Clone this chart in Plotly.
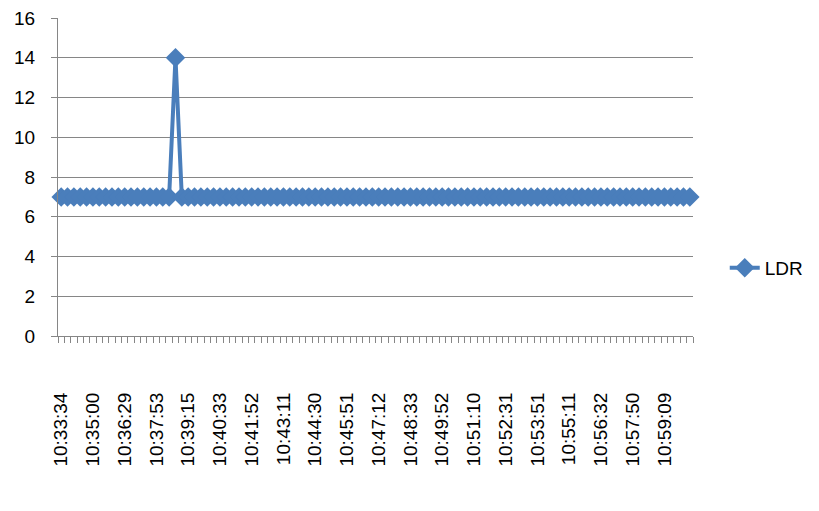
import plotly.graph_objects as go

tick_labels = ["10:33:34", "10:35:00", "10:36:29", "10:37:53", "10:39:15",
               "10:40:33", "10:41:52", "10:43:11", "10:44:30", "10:45:51",
               "10:47:12", "10:48:33", "10:49:52", "10:51:10", "10:52:31",
               "10:53:51", "10:55:11", "10:56:32", "10:57:50", "10:59:09"]

ldr = [7, 7, 7, 7, 7, 7, 7, 7, 7, 7,
       7, 7, 7, 7, 7, 7, 7, 7, 14, 7,
       7, 7, 7, 7, 7, 7, 7, 7, 7, 7,
       7, 7, 7, 7, 7, 7, 7, 7, 7, 7,
       7, 7, 7, 7, 7, 7, 7, 7, 7, 7,
       7, 7, 7, 7, 7, 7, 7, 7, 7, 7,
       7, 7, 7, 7, 7, 7, 7, 7, 7, 7,
       7, 7, 7, 7, 7, 7, 7, 7, 7, 7,
       7, 7, 7, 7, 7, 7, 7, 7, 7, 7,
       7, 7, 7, 7, 7, 7, 7, 7, 7, 7]

idx = list(range(len(ldr)))
tick_positions = idx[::5]

fig = go.Figure()
fig.add_trace(go.Scatter(
    x=idx, y=ldr, mode="lines+markers", name="LDR",
    line=dict(color="#4a7ebb", width=4),
    marker=dict(symbol="diamond", size=15, color="#4a7ebb"),
    cliponaxis=False,
))

# page body has an 8px default margin, so the figure is sized to fit the window
fig.update_layout(
    width=811, height=503,
    margin=dict(l=50, r=124, t=10, b=175),
    plot_bgcolor="white", paper_bgcolor="white",
    font=dict(family="Liberation Sans", size=19, color="#000000"),
    showlegend=True,
    legend=dict(x=1.05, y=0.214, xanchor="left", yanchor="middle",
                font=dict(size=19), bgcolor="rgba(0,0,0,0)"),
)

fig.update_xaxes(
    range=[-0.5, 99.5], tickmode="array", tickvals=tick_positions,
    ticktext=tick_labels, tickangle=-90, ticks="", showgrid=False,
    showline=True, linecolor="#868686", linewidth=1, zeroline=False,
    ticklabelstandoff=48, automargin=False, ticklabeloverflow="allow",
    minor=dict(tickmode="linear", tick0=-0.5, dtick=1, ticks="outside",
               ticklen=6, tickcolor="#868686", showgrid=False),
)
fig.update_yaxes(
    range=[0, 16], dtick=2, showgrid=True, gridcolor="#868686", gridwidth=1,
    showline=True, linecolor="#868686", linewidth=1, ticks="outside",
    ticklen=6, tickcolor="#868686", zeroline=False, ticklabelstandoff=12,
    automargin=False, ticklabeloverflow="allow",
)

fig.write_html("out.html")
